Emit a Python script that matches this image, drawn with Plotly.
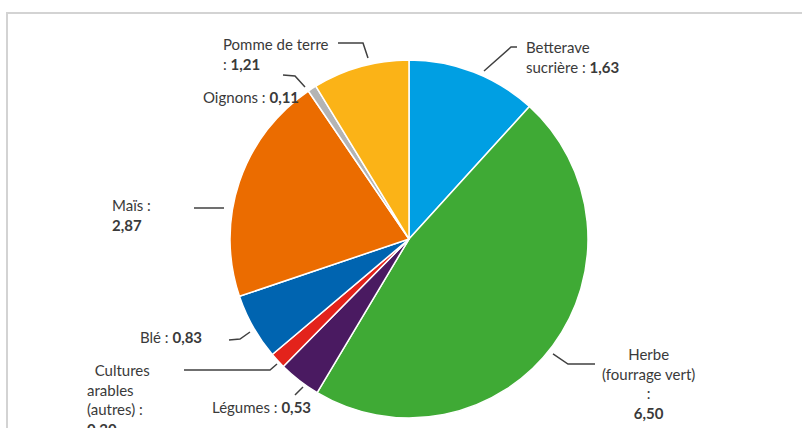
import plotly.graph_objects as go

# ---- data ----
categories = ["Betterave sucrière", "Herbe (fourrage vert)", "Légumes",
              "Cultures arables (autres)", "Blé", "Maïs", "Oignons", "Pomme de terre"]
values = [1.63, 6.50, 0.53, 0.20, 0.83, 2.87, 0.11, 1.21]
colors = ["#009FE3", "#3FAA35", "#4A1A61", "#E3231B", "#0064B0", "#EB6C00", "#B4B4B4", "#FBB317"]

W, H = 802, 428

def fmt(v):
    return f"{v:.2f}".replace(".", ",")

def px(x):
    return x / W

def py(y):
    return 1 - y / H

# label text templates (value inserted from data) and placement (pixel space)
label_tpl = {
    "Betterave sucrière": ("Betterave<br>sucrière : <b>{}</b>", 524, 57, "left"),
    "Herbe (fourrage vert)": ("Herbe<br>(fourrage vert)<br>:<br><b>{}</b>", 648, 383, "center"),
    "Légumes": ("Légumes : <b>{}</b>", 210, 407, "left"),
    "Cultures arables (autres)": ("&nbsp;&nbsp;Cultures<br>arables<br>(autres) :<br><b>{}</b>", 85, 399, "left"),
    "Blé": ("Blé : <b>{}</b>", 138, 337, "left"),
    "Maïs": ("Maïs :<br><b>{}</b>", 110, 215, "left"),
    "Oignons": ("Oignons : <b>{}</b>", 201, 97, "left"),
    "Pomme de terre": ("Pomme de terre<br>: <b>{}</b>", 221, 54, "left"),
}

leaders = {
    "Pomme de terre": [(338, 43), (363, 43), (368, 58)],
    "Oignons": [(283, 75), (295, 76), (305, 87)],
    "Betterave sucrière": [(517, 47), (511, 47), (484, 71)],
    "Maïs": [(194, 208), (224, 208)],
    "Blé": [(229, 340), (240, 339), (250, 332)],
    "Cultures arables (autres)": [(184, 370), (270, 370), (277, 364)],
    "Légumes": [(295, 395), (303, 387)],
    "Herbe (fourrage vert)": [(553, 354), (568, 364), (595, 364)],
}

fig = go.Figure(go.Pie(
    labels=categories,
    values=values,
    sort=False,
    direction="clockwise",
    rotation=0,
    textinfo="none",
    marker=dict(colors=colors, line=dict(color="white", width=1.5)),
    domain=dict(x=[px(230), px(588)], y=[py(418), py(60)]),
    showlegend=False,
))

annotations = []
for cat, v in zip(categories, values):
    tpl, x, y, align = label_tpl[cat]
    annotations.append(dict(
        x=px(x), y=py(y), xref="paper", yref="paper",
        text=tpl.format(fmt(v)), showarrow=False,
        xanchor="center" if align == "center" else "left",
        yanchor="middle", align=align,
        font=dict(family="Lato, 'Open Sans', sans-serif", size=15, color="#3A3A3A"),
    ))

shapes = []
for cat, pts in leaders.items():
    path = "M " + " L ".join(f"{px(a):.5f},{py(b):.5f}" for a, b in pts)
    shapes.append(dict(type="path", xref="paper", yref="paper", path=path,
                       line=dict(color="#404040", width=1.5)))

# outer frame
shapes.append(dict(type="rect", xref="paper", yref="paper",
                   x0=px(7), y0=py(440), x1=px(820), y1=py(13),
                   line=dict(color="#D3D3D3", width=2)))

fig.update_layout(
    width=W, height=H,
    margin=dict(l=0, r=0, t=0, b=0),
    paper_bgcolor="white", plot_bgcolor="white",
    annotations=annotations, shapes=shapes,
)

fig.write_html("out.html", config={"displayModeBar": False},
               post_script="document.body.style.margin='0';document.body.style.overflow='hidden';")
